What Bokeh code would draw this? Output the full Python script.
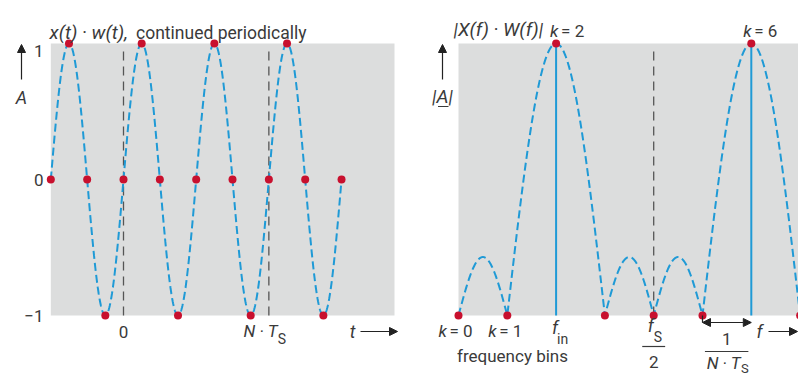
import numpy as np
from bokeh.plotting import figure
from bokeh.models import Range1d, Label, Arrow, NormalHead
from bokeh.embed import file_html
from bokeh.resources import INLINE

# ---- time signal x(t)·w(t): samples at t = n·T_S, N = 8 samples per window ----
t_samples = [-4, -3, -2, -1, 0, 1, 2, 3, 4, 5, 6, 7, 8, 9, 10, 11, 12]
x_samples = [0, 1, 0, -1, 0, 1, 0, -1, 0, 1, 0, -1, 0, 1, 0, -1, 0]
t_window = [0, 8]                      # 0 and N·T_S
y_ticks = [1, 0, -1]
y_tick_labels = ["1", "0", "\u22121"]

# ---- spectrum |X(f)·W(f)| at the DFT bins ----
k_bins = [0, 1, 2, 3, 4, 5, 6, 7]
k_mags = [0, 0, 1, 0, 0, 0, 1, 0]
k_half = 4                             # f_S / 2
lobe_start = [0, 1, 3, 4, 5]
lobe_end = [1, 3, 4, 5, 7]
lobe_peak = [0.215, 1.0, 0.215, 0.215, 1.0]

# ---- page geometry (pixels) ----
W, H = 798, 378
T0_PX, T_STEP = 123, 18.17             # left panel: t = 0 position, px per sample
Y0_PX, Y_UNIT = 179, 136               # left panel: A = 0 position, px per unit
K0_PX, K_STEP = 458, 48.8              # right panel: k = 0 position, px per bin
A0_PX, A_UNIT = 315, 272               # right panel: |A| = 0 position, px per unit

GRAY = "#dcdddd"
BLUE = "#1f9ad6"
RED = "#c8102e"
TEXT = "#3a3a3a"
DASH_GRAY = "#555555"
FONT = "Roboto"
SUB = 14

p = figure(width=W, height=H, output_backend="svg", toolbar_location=None,
           x_axis_location=None, y_axis_location=None, min_border=0,
           x_range=Range1d(-T0_PX / T_STEP, (W - T0_PX) / T_STEP),
           y_range=Range1d((Y0_PX - H) / Y_UNIT, Y0_PX / Y_UNIT))
p.extra_x_ranges = {"f": Range1d(-K0_PX / K_STEP, (W - K0_PX) / K_STEP),
                    "px": Range1d(0, W)}
p.extra_y_ranges = {"a": Range1d((A0_PX - H) / A_UNIT, A0_PX / A_UNIT),
                    "py": Range1d(H, 0)}
p.grid.visible = False
p.outline_line_color = None
p.background_fill_color = "white"
p.border_fill_color = "white"


def arches(starts, ends, peaks, n=80):
    xs, ys = [], []
    for a, b, h in zip(starts, ends, peaks):
        u = np.linspace(0.0, 1.0, n)
        xs.extend(a + (b - a) * u)
        ys.extend(h * np.sin(np.pi * u))
    return xs, ys


# ---------------- left panel: time domain ----------------
p.quad(left=t_samples[0], right=(394 - T0_PX) / T_STEP, bottom=-1, top=1,
       fill_color=GRAY, line_color=None)
p.segment(x0=t_window, y0=[-1, -1], x1=t_window, y1=[(Y0_PX - 50) / Y_UNIT] * 2,
          line_color=DASH_GRAY, line_width=1.3, line_dash="9 6")
lx, ly = arches(t_samples[0:-1:2], t_samples[2::2], x_samples[1::2])
p.line(lx, ly, line_color=BLUE, line_width=2, line_dash="8 4")
p.scatter(t_samples, x_samples, size=8, fill_color=RED, line_color=None)

# ---------------- right panel: spectrum ----------------
p.quad(left=k_bins[0], right=(W + 5 - K0_PX) / K_STEP, bottom=0, top=1,
       fill_color=GRAY, line_color=None, x_range_name="f", y_range_name="a")
p.segment(x0=[k_half], y0=[0], x1=[k_half], y1=[(A0_PX - 50) / A_UNIT],
          line_color=DASH_GRAY, line_width=1.3, line_dash="9 6",
          x_range_name="f", y_range_name="a")
lines_k = [k for k, m in zip(k_bins, k_mags) if m > 0]
lines_m = [m for m in k_mags if m > 0]
p.segment(x0=lines_k, y0=[0] * len(lines_k), x1=lines_k, y1=lines_m,
          line_color=BLUE, line_width=2, x_range_name="f", y_range_name="a")
rx, ry = arches(lobe_start, lobe_end, lobe_peak)
p.line(rx, ry, line_color=BLUE, line_width=2, line_dash="8 4",
       x_range_name="f", y_range_name="a")
p.scatter(k_bins, k_mags, size=8, fill_color=RED, line_color=None,
          x_range_name="f", y_range_name="a")


def put(text, x, y, xr="px", yr="py", size=17, italic=False, align="center",
        baseline="middle", x_offset=0, y_offset=0):
    p.add_layout(Label(x=x, y=y, x_range_name=xr, y_range_name=yr, text=text,
                       text_font=FONT, text_font_size=f"{size}px",
                       text_font_style="italic" if italic else "normal",
                       text_color=TEXT, text_align=align, text_baseline=baseline,
                       x_offset=x_offset, y_offset=y_offset))


def arrow(x0, y0, x1, y1, xr="px", yr="py", both=False, size=8):
    head = dict(size=size, fill_color="#222222", line_color="#222222")
    p.add_layout(Arrow(x_start=x0, y_start=y0, x_end=x1, y_end=y1,
                       x_range_name=xr, y_range_name=yr,
                       start=NormalHead(**head) if both else None,
                       end=NormalHead(**head), line_color="#222222", line_width=1.2))


# left texts
put("x(t) · w(t),", 49, 32, size=19, italic=True, align="left", baseline="alphabetic")
put("continued periodically", 306, 32, size=17.5, align="right", baseline="alphabetic")
tick_nudge = [-7, 0, 0]
for yv, lab, dy in zip(y_ticks, y_tick_labels, tick_nudge):
    put(lab, 43, yv, yr="default", align="right", y_offset=dy)
arrow(21, 79, 21, 44)
put("A", 21, 97, size=18, italic=True)
put("0", t_window[0], 331, xr="default")
put("N · T", t_window[1], 330, xr="default", italic=True, align="right", x_offset=9)
put("S", t_window[1], 338, xr="default", size=SUB, align="left", x_offset=9)
put("t", 352, 331, size=18, italic=True)
arrow(360, 331, 397, 331)

# right texts
put("|X(f) · W(f)|", 453, 29, size=19, italic=True, align="left", baseline="alphabetic")


def k_label(k, name, y, left_offset):
    put("k", k, y, xr="f", italic=True, align="left", x_offset=left_offset)
    put(f"= {name}", k, y, xr="f", align="left", x_offset=left_offset + 11)


k_label(2, "2", 30, -6)
k_label(6, "6", 30, -8)
k_label(0, "0", 330, -20)
k_label(1, "1", 330, -19)
arrow(442, 79, 442, 44)
put("|A|", 442, 96, size=19, italic=True)
p.segment(x0=[437.5], y0=[106], x1=[448], y1=[106], line_color=TEXT, line_width=1.2,
          x_range_name="px", y_range_name="py")

put("f", 2, 327, xr="f", size=18, italic=True, align="right", x_offset=2)
put("in", 2, 338, xr="f", size=SUB, align="left", x_offset=1)
put("frequency bins", 512, 355)

put("f", k_half, 325, xr="f", size=18, italic=True, align="right", x_offset=0)
put("S", k_half, 336, xr="f", size=SUB, align="left", x_offset=0)
p.segment(x0=[k_half - 0.235], y0=[346], x1=[k_half + 0.235], y1=[346],
          line_color=TEXT, line_width=1.2, x_range_name="f", y_range_name="py")
put("2", k_half, 361, xr="f")

# 1/(N·T_S): bin spacing between k = 5 and k = 6
p.segment(x0=[5], y0=[A0_PX], x1=[5], y1=[322], line_color="#222222", line_width=1.2,
          x_range_name="f", y_range_name="py")
arrow(5, 322, 6, 322, xr="f", both=True)
put("1", 5.5, 338, xr="f")
p.segment(x0=[5.05], y0=[351], x1=[5.94], y1=[351], line_color=TEXT, line_width=1.2,
          x_range_name="f", y_range_name="py")
put("N · T", 5.5, 362, xr="f", italic=True, align="right", x_offset=14)
put("S", 5.5, 368, xr="f", size=13, align="left", x_offset=14)
put("f", 759, 331, size=18, italic=True)
arrow(768, 331, 797, 331)

open("out.html", "w").write(file_html(p, INLINE))
